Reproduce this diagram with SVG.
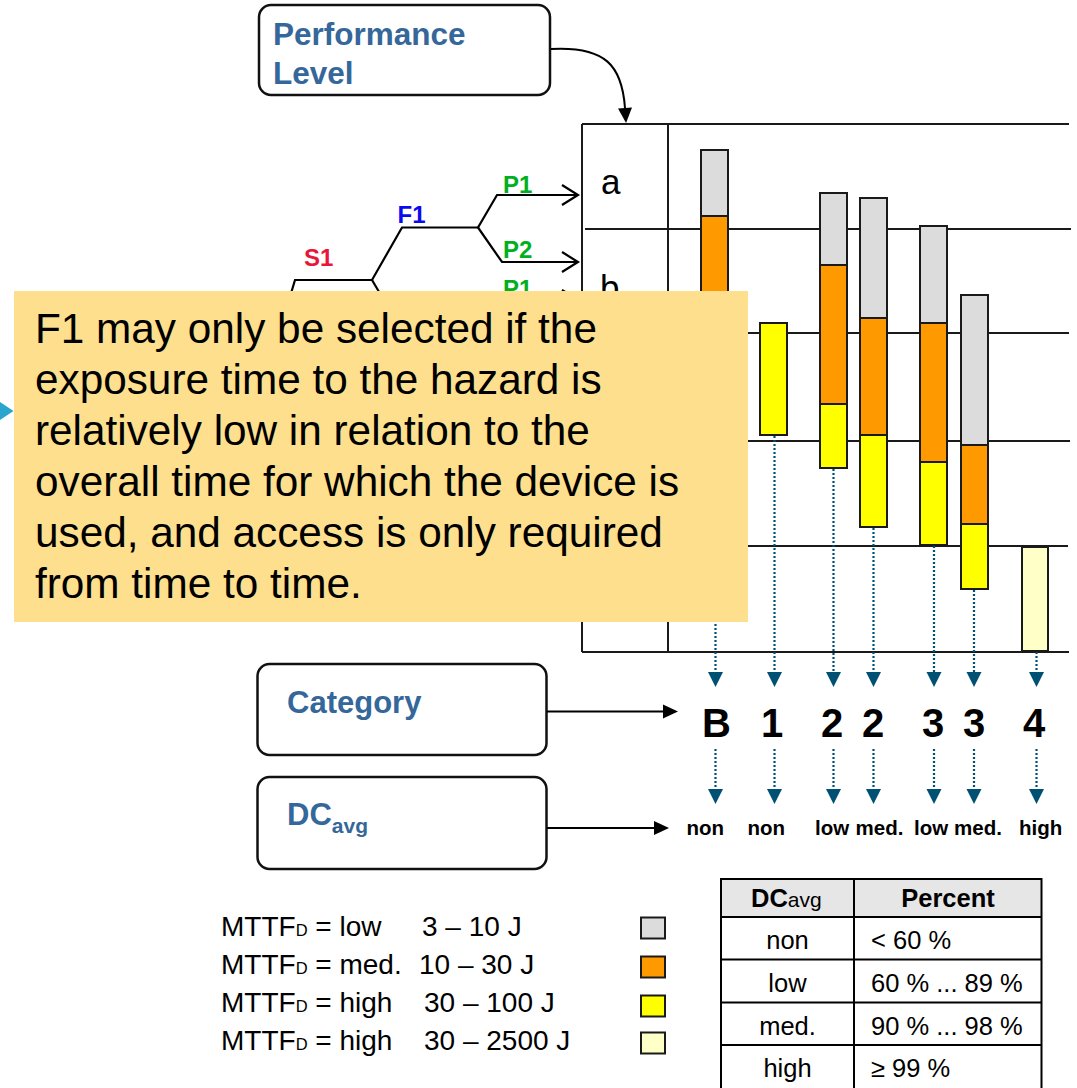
<svg xmlns="http://www.w3.org/2000/svg" width="1077" height="1088" viewBox="0 0 1077 1088">
  <style>
    .sans { font-family: "Liberation Sans", Arial, sans-serif; }
    .box { fill: #fff; stroke: #111; stroke-width: 2.5; }
    .boxlabel { font-family: "Liberation Sans", Arial, sans-serif; font-weight: bold; fill: #35679A; }
    .grid { stroke: #1a1a1a; stroke-width: 2; fill: none; }
    .branch { stroke: #000; stroke-width: 2.2; fill: none; stroke-linejoin: miter; }
    .bar { stroke: #1a1a1a; stroke-width: 2; }
    .grey { fill: #DCDCDC; }
    .orange { fill: #FF9900; }
    .yellow { fill: #FFFF00; }
    .pale { fill: #FFFFC8; }
    .dot { stroke: #005073; stroke-width: 2.2; stroke-dasharray: 2 2; fill: none; marker-end: url(#tri); }
    .conn { stroke: #000; stroke-width: 2; fill: none; }
    .cat { font-family: "Liberation Sans", Arial, sans-serif; font-weight: bold; font-size: 40px; text-anchor: middle; fill: #000; }
    .dc { font-family: "Liberation Sans", Arial, sans-serif; font-weight: bold; font-size: 20.5px; fill: #000; }
    .tree { font-family: "Liberation Sans", Arial, sans-serif; font-weight: bold; font-size: 24px; }
    .leg { font-family: "Liberation Sans", Arial, sans-serif; font-size: 28px; fill: #000; }
    .tbl { font-family: "Liberation Sans", Arial, sans-serif; font-size: 25.5px; fill: #000; }
    .cell { stroke: #000; stroke-width: 2; fill: none; }
  </style>
  <defs>
    <marker id="tri" markerUnits="userSpaceOnUse" markerWidth="16" markerHeight="16" refX="0" refY="7.5" orient="auto" overflow="visible">
      <path d="M0,0 L15,7.5 L0,15 Z" fill="#005073"/>
    </marker>
    <marker id="solid" markerUnits="userSpaceOnUse" markerWidth="16" markerHeight="16" refX="0" refY="7" orient="auto" overflow="visible">
      <path d="M0,0 L15,7 L0,14 Z" fill="#000"/>
    </marker>
    <marker id="open" markerUnits="userSpaceOnUse" markerWidth="20" markerHeight="24" refX="16" refY="10" orient="auto" overflow="visible">
      <path d="M0,0 L16,10 L0,20" fill="none" stroke="#000" stroke-width="2.2"/>
    </marker>
  </defs>

  <!-- performance level grid -->
  <g id="grid">
    <line class="grid" x1="582" y1="124" x2="1069" y2="124"/>
    <line class="grid" x1="585" y1="229" x2="1071" y2="229"/>
    <line class="grid" x1="582" y1="333" x2="1069" y2="333"/>
    <line class="grid" x1="582" y1="441" x2="1070" y2="441"/>
    <line class="grid" x1="582" y1="546" x2="1068" y2="546"/>
    <line class="grid" x1="582" y1="652" x2="1069" y2="652"/>
    <line class="grid" x1="582" y1="124" x2="582" y2="652"/>
    <line class="grid" x1="668" y1="124" x2="668" y2="652"/>
    <text class="sans" x="601" y="194" font-size="35">a</text>
    <text class="sans" x="600" y="300" font-size="35">b</text>
  </g>

  <!-- MTTFd bars, one per category -->
  <g id="bar-B">
    <rect class="bar grey" x="701" y="150" width="27" height="66"/>
    <rect class="bar orange" x="701" y="216" width="27" height="204"/>
  </g>
  <g id="bar-1">
    <rect class="bar yellow" x="760" y="323" width="27" height="112"/>
  </g>
  <g id="bar-2low">
    <rect class="bar grey" x="820" y="193" width="27" height="72"/>
    <rect class="bar orange" x="820" y="265" width="27" height="139"/>
    <rect class="bar yellow" x="820" y="404" width="27" height="64"/>
  </g>
  <g id="bar-2med">
    <rect class="bar grey" x="860" y="198" width="27" height="120"/>
    <rect class="bar orange" x="860" y="318" width="27" height="117"/>
    <rect class="bar yellow" x="860" y="435" width="27" height="92"/>
  </g>
  <g id="bar-3low">
    <rect class="bar grey" x="920" y="226" width="27" height="97"/>
    <rect class="bar orange" x="920" y="323" width="27" height="139"/>
    <rect class="bar yellow" x="920" y="462" width="27" height="83"/>
  </g>
  <g id="bar-3med">
    <rect class="bar grey" x="961" y="295" width="27" height="150"/>
    <rect class="bar orange" x="961" y="445" width="27" height="79"/>
    <rect class="bar yellow" x="961" y="524" width="27" height="65"/>
  </g>
  <g id="bar-4">
    <rect class="bar pale" x="1022" y="547" width="26" height="104"/>
  </g>

  <!-- risk graph branches -->
  <g id="risk-graph">
    <path class="branch" d="M289,300 L295,280 L372,280 L402,227.5 L478,227.5"/>
    <path class="branch" d="M372,280 L385,302"/>
    <path class="branch" d="M478,227.5 L497,195 L578,195" marker-end="url(#open)"/>
    <path class="branch" d="M478,227.5 L502,262 L578,262" marker-end="url(#open)"/>
    <path class="branch" d="M578,300 L520,300"/>
    <path d="M562,290 L578,300 L562,310" fill="none" stroke="#000" stroke-width="2.2"/>
    <text class="tree" x="304" y="265.5" fill="#E8173A">S1</text>
    <text class="tree" x="397.5" y="222.5" fill="#0A0AF0">F1</text>
    <text class="tree" x="503" y="192.5" fill="#00B020">P1</text>
    <text class="tree" x="503" y="258" fill="#00B020">P2</text>
    <text class="tree" x="503" y="297" fill="#00B020">P1</text>
  </g>

  <!-- label boxes -->
  <g id="performance-level">
    <rect class="box" x="259" y="5" width="291" height="90" rx="12"/>
    <text class="boxlabel" x="273" y="45" font-size="31.5">Performance</text>
    <text class="boxlabel" x="273" y="84" font-size="31.5">Level</text>
  </g>
  <g id="category">
    <rect class="box" x="257.5" y="664" width="289" height="91" rx="12"/>
    <text class="boxlabel" x="287" y="713" font-size="31">Category</text>
  </g>
  <g id="dcavg">
    <rect class="box" x="257.5" y="777" width="289" height="92" rx="12"/>
    <text class="boxlabel" x="287" y="825" font-size="31">DC<tspan font-size="21" dy="8">avg</tspan></text>
  </g>

  <!-- connectors -->
  <g id="connectors">
    <path class="conn" d="M551,49 C606,46 622,66 625,108" marker-end="url(#solid)"/>
    <line class="conn" x1="547" y1="711.5" x2="663" y2="711.5" marker-end="url(#solid)"/>
    <line class="conn" x1="547" y1="828" x2="654" y2="828" marker-end="url(#solid)"/>

    <line class="dot" x1="715.5" y1="420" x2="715.5" y2="672"/>
    <line class="dot" x1="774.5" y1="436" x2="774.5" y2="672"/>
    <line class="dot" x1="833.5" y1="469" x2="833.5" y2="672"/>
    <line class="dot" x1="873.5" y1="528" x2="873.5" y2="672"/>
    <line class="dot" x1="934" y1="546" x2="934" y2="672"/>
    <line class="dot" x1="974" y1="590" x2="974" y2="672"/>
    <line class="dot" x1="1036.5" y1="652" x2="1036.5" y2="672"/>

    <line class="dot" x1="715.5" y1="749" x2="715.5" y2="789"/>
    <line class="dot" x1="774.5" y1="749" x2="774.5" y2="789"/>
    <line class="dot" x1="833.5" y1="749" x2="833.5" y2="789"/>
    <line class="dot" x1="873.5" y1="749" x2="873.5" y2="789"/>
    <line class="dot" x1="934" y1="749" x2="934" y2="789"/>
    <line class="dot" x1="974" y1="749" x2="974" y2="789"/>
    <line class="dot" x1="1036.5" y1="749" x2="1036.5" y2="789"/>
  </g>

  <!-- resulting categories and diagnostic coverage -->
  <g id="categories">
    <text class="cat" x="716.5" y="737">B</text>
    <text class="cat" x="772" y="737">1</text>
    <text class="cat" x="832" y="737">2</text>
    <text class="cat" x="873" y="737">2</text>
    <text class="cat" x="933" y="737">3</text>
    <text class="cat" x="974" y="737">3</text>
    <text class="cat" x="1034" y="737">4</text>
  </g>
  <g id="dc-values">
    <text class="dc" x="686.5" y="835">non</text>
    <text class="dc" x="747.5" y="835">non</text>
    <text class="dc" x="815" y="835">low</text>
    <text class="dc" x="855.5" y="835">med.</text>
    <text class="dc" x="914" y="835">low</text>
    <text class="dc" x="954" y="835">med.</text>
    <text class="dc" x="1019" y="835">high</text>
  </g>

  <!-- MTTFd legend -->
  <g id="legend">
    <text class="leg" x="221" y="936">MTTF<tspan font-size="16.5">D</tspan> = low</text>
    <text class="leg" x="422" y="936">3 – 10 J</text>
    <text class="leg" x="221" y="973.5">MTTF<tspan font-size="16.5">D</tspan> = med.</text>
    <text class="leg" x="419" y="973.5">10 – 30 J</text>
    <text class="leg" x="221" y="1012">MTTF<tspan font-size="16.5">D</tspan> = high</text>
    <text class="leg" x="424" y="1012">30 – 100 J</text>
    <text class="leg" x="221" y="1050">MTTF<tspan font-size="16.5">D</tspan> = high</text>
    <text class="leg" x="424" y="1050">30 – 2500 J</text>
    <rect class="bar grey" x="641" y="917.5" width="24" height="21" stroke-width="1.8"/>
    <rect class="bar orange" x="641" y="956.5" width="24" height="21" stroke-width="1.8"/>
    <rect class="bar yellow" x="641" y="995.5" width="24" height="21" stroke-width="1.8"/>
    <rect class="bar pale" x="641" y="1032.5" width="24" height="21" stroke-width="1.8"/>
  </g>

  <!-- DCavg table -->
  <g id="dc-table">
    <rect x="721" y="879" width="320.5" height="38" fill="#E6E6E6"/>
    <path class="cell" d="M721,1090 L721,879 L1041.5,879 L1041.5,1090"/>
    <line class="cell" x1="854" y1="879" x2="854" y2="1090"/>
    <line class="cell" x1="721" y1="917" x2="1041.5" y2="917"/>
    <line class="cell" x1="721" y1="959.5" x2="1041.5" y2="959.5"/>
    <line class="cell" x1="721" y1="1002.5" x2="1041.5" y2="1002.5"/>
    <line class="cell" x1="721" y1="1045" x2="1041.5" y2="1045"/>
    <text class="tbl" x="751" y="907" font-weight="bold">DC<tspan font-weight="normal" font-size="21">avg</tspan></text>
    <text class="tbl" x="948" y="907" font-weight="bold" text-anchor="middle">Percent</text>
    <text class="tbl" x="787.5" y="948.5" text-anchor="middle">non</text>
    <text class="tbl" x="787.5" y="991.5" text-anchor="middle">low</text>
    <text class="tbl" x="787.5" y="1035" text-anchor="middle">med.</text>
    <text class="tbl" x="787.5" y="1077" text-anchor="middle">high</text>
    <text class="tbl" x="871" y="948.5">&lt; 60 %</text>
    <text class="tbl" x="871" y="991.5">60 % ... 89 %</text>
    <text class="tbl" x="871" y="1035">90 % ... 98 %</text>
    <text class="tbl" x="871" y="1077">≥ 99 %</text>
  </g>

  <!-- F1 explanatory callout -->
  <g id="f1-note">
    <polygon points="0,402 13.5,411 0,420" fill="#2AA6CE"/>
    <rect x="14" y="291" width="734" height="331" fill="#FDDF8E"/>
    <g class="sans" font-size="42.3" fill="#000">
      <text x="35" y="342.5">F1 may only be selected if the</text>
      <text x="35" y="393.5">exposure time to the hazard is</text>
      <text x="35" y="444.5">relatively low in relation to the</text>
      <text x="35" y="495.5">overall time for which the device is</text>
      <text x="35" y="546.5">used, and access is only required</text>
      <text x="35" y="597.5">from time to time.</text>
    </g>
  </g>
</svg>
